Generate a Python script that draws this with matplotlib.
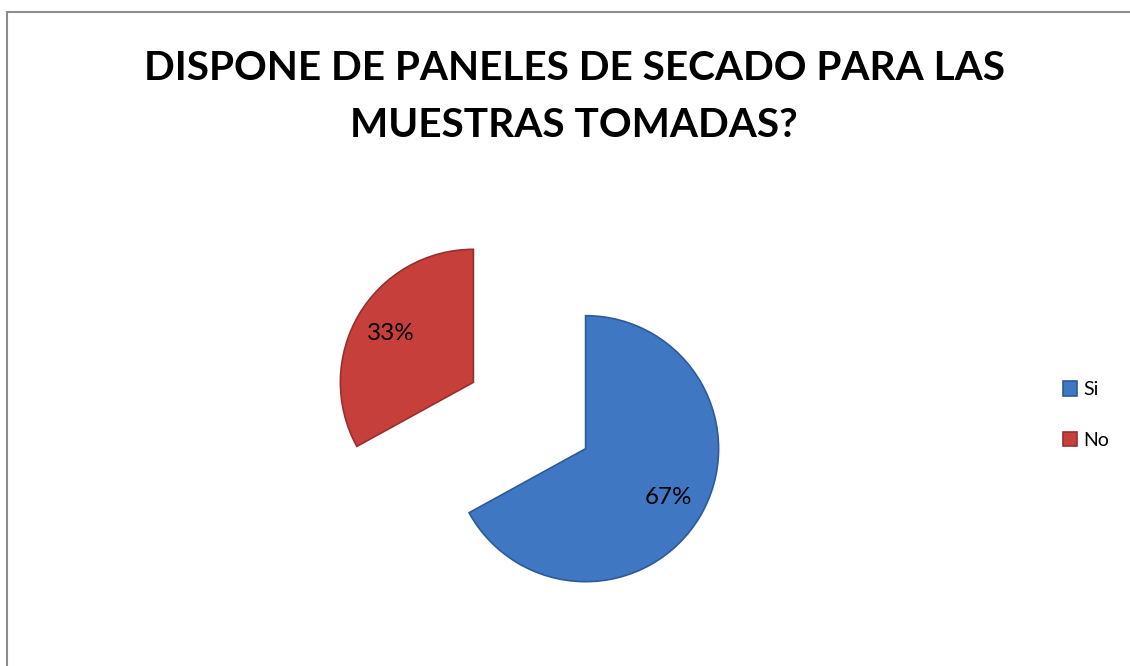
import matplotlib
matplotlib.use("Agg")
import matplotlib.pyplot as plt
from matplotlib.patches import Rectangle

# respuestas de la encuesta
labels = ["Si", "No"]
values = [67, 33]
colors = ["#3F77C3", "#C73F3B"]
edges = ["#2F5A94", "#963030"]

W, H = 1130, 666
R = 133  # radio del pastel en pixeles
plt.rcParams['font.family'] = ['Lato', 'DejaVu Sans']

fig = plt.figure(figsize=(W / 100, H / 100), dpi=100)
ax = fig.add_axes([0, 0, 1, 1])

# explode va en unidades de datos, no relativo al radio
wedges, texts, autotexts = ax.pie(
    values, labels=None, colors=colors, startangle=90, counterclock=False,
    explode=[0.49 * R, 0.49 * R], center=(529.5, H - 415.5), radius=R,
    autopct=lambda p: f"{p:.0f}%", pctdistance=0.72,
    wedgeprops=dict(linewidth=1.2), textprops=dict(fontsize=17.5, color="black"),
)
for w, ec in zip(wedges, edges):
    w.set_edgecolor(ec)

ax.set_xlim(0, W)
ax.set_ylim(0, H)
ax.set_aspect('auto')
ax.axis('off')

# marco del grafico
fig.patches.append(Rectangle((7 / W, -0.1), 1.2, (H - 12) / H + 0.1, transform=fig.transFigure,
                             fill=False, edgecolor="#8C8C8C", linewidth=1.5))

fig.text(574 / W, 1 - 97 / H, "DISPONE DE PANELES DE SECADO PARA LAS\nMUESTRAS TOMADAS?",
         ha="center", va="center", fontsize=29.2, fontweight="bold", linespacing=1.65)

ax.legend(wedges, labels, loc="center left", bbox_to_anchor=(1045 / W, 1 - 415 / H),
          bbox_transform=fig.transFigure, frameon=False, fontsize=14,
          handlelength=0.75, handleheight=0.75, handletextpad=0.3, labelspacing=1.72)

fig.savefig("out.png", dpi=100)
